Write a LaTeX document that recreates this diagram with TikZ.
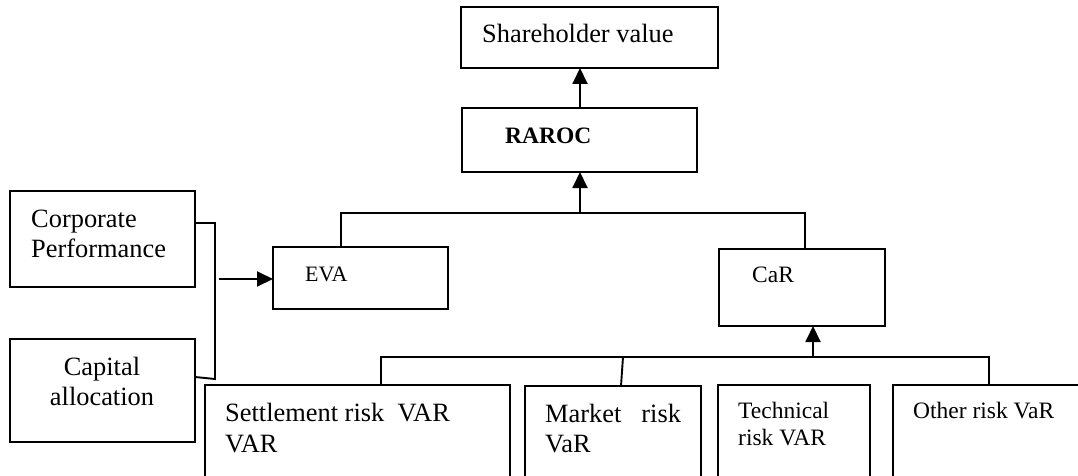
\documentclass[tikz,border=0pt]{standalone}
\usepackage{fontspec}
\setmainfont{Liberation Serif}
\usetikzlibrary{arrows.meta,calc}
\begin{document}
\begin{tikzpicture}[x=1pt,y=-1pt,
  box/.style={draw,line width=1.9pt,inner sep=0pt,outer sep=0pt,anchor=north west},
  lbl/.style={anchor=base west,inner sep=0pt},
  lblc/.style={anchor=base,inner sep=0pt},
  big/.style={font=\fontsize{26.4}{30}\selectfont},
  mid/.style={font=\fontsize{23.5}{28}\selectfont},
  sml/.style={font=\fontsize{22}{26}\selectfont},
  conn/.style={line width=1.9pt},
  arr/.style={conn,-{Triangle[length=16pt,width=15pt]}}]
\useasboundingbox (0,0) rectangle (1078,476);
\clip (0,0) rectangle (1078,476);

% boxes
\node[box,minimum width=257pt,minimum height=61pt] (sv) at (461,7) {};
\node[box,minimum width=235pt,minimum height=64pt] (raroc) at (462,108) {};
\node[box,minimum width=175pt,minimum height=62pt] (eva) at (273,247) {};
\node[box,minimum width=166pt,minimum height=77pt] (car) at (719,249) {};
\node[box,minimum width=185pt,minimum height=96pt] (corp) at (10,191) {};
\node[box,minimum width=185pt,minimum height=103pt] (cap) at (10,339) {};
\node[box,minimum width=305pt,minimum height=130pt] (settle) at (205,385) {};
\node[box,minimum width=176pt,minimum height=130pt] (market) at (525,386) {};
\node[box,minimum width=152pt,minimum height=130pt] (tech) at (718,385) {};
\node[box,minimum width=220pt,minimum height=130pt] (other) at (893,385) {};

% texts
\node[lbl,big] (svT) at (482,43) {Shareholder value};
\node[lbl,mid] (rarocT) at (505,143) {\bfseries RAROC};
\node[lbl,sml] (evaT) at (305,281) {EVA};
\node[lbl,mid] (carT) at (752,282) {CaR};
\node[lbl,big] (corpT1) at (31,227) {Corporate};
\node[lbl,big] (corpT2) at (31,257) {Performance};
\node[lblc,big] (capT1) at (102,375) {Capital};
\node[lblc,big] (capT2) at (102,405) {allocation};
\node[lbl,big] (setT1) at (225,421) {Settlement risk\ \ VAR};
\node[lbl,big] (setT2) at (225,452) {VAR};
\node[lbl,big] (mktT1) at (545,422) {Market\hspace{20pt}risk};
\node[lbl,big] (mktT2) at (545,452) {VaR};
\node[lbl,mid] (techT1) at (738,418) {Technical};
\node[lbl,mid] (techT2) at (738,445) {risk VAR};
\node[lbl,mid] (othT) at (913,418) {Other risk VaR};

% connectors
\coordinate (tb) at (580,213);
\draw[arr] (tb |- raroc.north) -- (tb |- sv.south);

\draw[conn] ($(eva.north west)+(68,0)$) |- (tb) -| ($(car.north west)+(86,0)$);
\draw[arr] (tb) -- (tb |- raroc.south);

\coordinate (bb) at (813,357);
\coordinate (mb) at (623,357);
\draw[conn] ($(settle.north west)+(176,0)$) |- (bb) -| ($(other.north west)+(96,0)$);
\draw[conn] ($(market.north west)+(96,0)$) -- (mb);
\draw[arr] (bb) -- (bb |- car.south);

\coordinate (br1) at (215,223);
\coordinate (br2) at (215,379);
\draw[conn] ($(corp.north east)+(0,32)$) -- (br1) -- (br2) -- ($(cap.north east)+(0,38)$);

\coordinate (ea) at (219,279);
\draw[arr] (ea) -- (ea -| eva.west);
\end{tikzpicture}
\end{document}
